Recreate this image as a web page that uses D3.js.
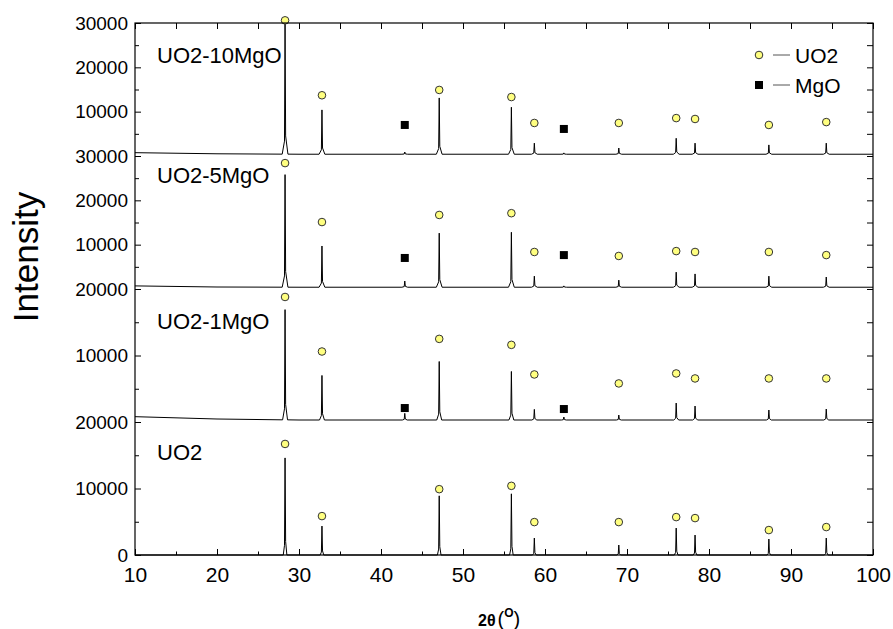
<!DOCTYPE html>
<html>
<head>
<meta charset="utf-8">
<script src="https://cdn.jsdelivr.net/npm/d3@7"></script>
<style>
  body { margin: 0; background: #fff; }
  svg text { font-family: "Liberation Sans", Arial, sans-serif; fill: #000; }
</style>
</head>
<body>
<div class="vis"></div>
<script>
// samples, top to bottom
const samples = ["UO2-10MgO", "UO2-5MgO", "UO2-1MgO", "UO2"];
const panelMax = [30000, 30000, 20000, 20000];

// reflection positions (2theta) and phase
const peakPos = [28.3, 32.8, 42.9, 47.1, 55.9, 58.7, 62.3, 69.0, 76.0, 78.3, 87.3, 94.3];
const peakPhase = ["UO2", "UO2", "MgO", "UO2", "UO2", "UO2", "MgO", "UO2", "UO2", "UO2", "UO2", "UO2"];

// peak top intensities
const peaks10MgO = [29800, 10400, 900, 13100, 11000, 2900, 700, 1800, 4000, 2900, 2500, 2900];
const peaks5MgO = [25800, 9700, 1800, 12600, 12800, 2900, 700, 2000, 3800, 3400, 2900, 2700];
const peaks1MgO = [16900, 7000, 1300, 9100, 7600, 1900, 750, 1050, 2850, 2400, 1800, 1950];
const peaksUO2 = [14600, 4350, 0, 8900, 9200, 2550, 0, 1500, 4050, 3000, 2400, 2550];

// phase marker heights
const marks10MgO = [30600, 13700, 7000, 14900, 13300, 7450, 6100, 7450, 8550, 8350, 7000, 7650];
const marks5MgO = [28400, 15100, 7000, 16700, 17100, 8350, 7650, 7450, 8550, 8350, 8350, 7650];
const marks1MgO = [18800, 10600, 2100, 12500, 11600, 7150, 1950, 5800, 7300, 6550, 6550, 6550];
const marksUO2 = [16700, 5850, null, 9900, 10400, 4950, null, 4950, 5700, 5550, 3750, 4200];

// background [2theta, intensity]
const bg10MgO = [[10, 750], [20, 500], [30, 400], [100, 400]];
const bg5MgO = [[10, 700], [20, 450], [30, 400], [100, 400]];
const bg1MgO = [[10, 800], [20, 450], [30, 300], [100, 300]];
const bgUO2 = [[10, 0], [100, 0]];

const xTicks = [10, 20, 30, 40, 50, 60, 70, 80, 90, 100];
const yTickLabels = [[30000, 20000, 10000], [30000, 20000, 10000], [20000, 10000], [20000, 10000, 0]];

const peakSets = [peaks10MgO, peaks5MgO, peaks1MgO, peaksUO2];
const markSets = [marks10MgO, marks5MgO, marks1MgO, marksUO2];
const bgSets = [bg10MgO, bg5MgO, bg1MgO, bgUO2];

// layout
const W = 893, H = 629;
const margin = { top: 23, right: 20, bottom: 74, left: 135 };
const width = W - margin.left - margin.right;
const height = H - margin.top - margin.bottom;
const panelH = height / samples.length;
const labelBase = [40, 27, 40, 38];
const footW = [0.35, 0.35, 0.3, 0.22];

const svg = d3.select(".vis").append("svg")
  .attr("width", W).attr("height", H)
  .style("background", "#fff");

const g = svg.append("g").attr("transform", `translate(${margin.left},${margin.top})`);

const x = d3.scaleLinear().domain([10, 100]).range([0, width]);

const line = (y) => d3.line().x((d) => x(d[0])).y((d) => y(d[1]));

samples.forEach((name, i) => {
  const y = d3.scaleLinear().domain([0, panelMax[i]]).range([panelH * (i + 1), panelH * i]);
  const bg = bgSets[i];
  const bgAt = d3.scaleLinear().domain(bg.map((d) => d[0])).range(bg.map((d) => d[1]));

  // pattern: background with the read peaks on top
  let pts = bg.slice();
  peakSets[i].forEach((h, k) => {
    if (!h) return;
    const p = peakPos[k], f = bgAt(p), w = footW[i];
    pts.push([p - w, f], [p - 0.07, f + (h - f) * 0.1], [p, h], [p + 0.07, f + (h - f) * 0.14], [p + w, f]);
  });
  pts.sort((a, b) => a[0] - b[0]);

  g.append("path")
    .datum(pts)
    .attr("fill", "none")
    .attr("stroke", "#000")
    .attr("stroke-width", 1)
    .attr("d", line(y));

  // left axis, ticks pointing in
  const yl = g.append("g")
    .call(d3.axisLeft(y)
      .tickValues(d3.range(0, panelMax[i] + 1, 10000))
      .tickSizeInner(-6).tickSizeOuter(0).tickPadding(7)
      .tickFormat((d) => (yTickLabels[i].includes(d) ? d : "")));
  yl.select(".domain").remove();
  yl.selectAll("text").style("font-size", "19px").attr("font-family", null);
  g.append("g")
    .call(d3.axisLeft(y).tickValues(d3.range(5000, panelMax[i], 10000))
      .tickSizeInner(-4).tickSizeOuter(0).tickFormat(""))
    .select(".domain").remove();

  // right axis
  const yr = g.append("g").attr("transform", `translate(${width},0)`)
    .call(d3.axisRight(y).tickValues(d3.range(0, panelMax[i] + 1, 5000))
      .tickSizeInner(-6).tickSizeOuter(0).tickFormat(""));
  yr.select(".domain").remove();

  // phase markers
  const mk = peakPos.map((p, k) => ({ p, v: markSets[i][k], phase: peakPhase[k] }))
    .filter((d) => d.v != null);
  g.append("g").selectAll("circle")
    .data(mk.filter((d) => d.phase === "UO2"))
    .join("circle")
    .attr("cx", (d) => x(d.p))
    .attr("cy", (d) => y(d.v))
    .attr("r", 3.8)
    .attr("fill", "#ffff80")
    .attr("stroke", "#333")
    .attr("stroke-width", 1);
  g.append("g").selectAll("rect")
    .data(mk.filter((d) => d.phase === "MgO"))
    .join("rect")
    .attr("x", (d) => x(d.p) - 4)
    .attr("y", (d) => y(d.v) - 4)
    .attr("width", 8)
    .attr("height", 8)
    .attr("fill", "#000");

  g.append("text")
    .attr("x", 22)
    .attr("y", panelH * i + labelBase[i])
    .style("font-size", "22px")
    .text(name);
});

// x axes
const xb = g.append("g").attr("transform", `translate(0,${height})`)
  .call(d3.axisBottom(x).tickValues(xTicks).tickSizeInner(-6).tickSizeOuter(0).tickPadding(12));
xb.select(".domain").remove();
xb.selectAll("text").style("font-size", "21px").attr("font-family", null);
g.append("g").attr("transform", `translate(0,${height})`)
  .call(d3.axisBottom(x).tickValues(d3.range(15, 100, 10)).tickSizeInner(-3.5).tickSizeOuter(0).tickFormat(""))
  .select(".domain").remove();
g.append("g")
  .call(d3.axisTop(x).tickValues(d3.range(10, 101, 5)).tickSizeInner(-6).tickSizeOuter(0).tickFormat(""))
  .select(".domain").remove();

g.selectAll(".tick line").attr("stroke", "#000");

// frame
g.append("rect")
  .attr("width", width).attr("height", height)
  .attr("fill", "none").attr("stroke", "#000").attr("stroke-width", 1.2);

// legend
const legend = g.append("g").attr("transform", `translate(${759 - margin.left},${55 - margin.top})`);
legend.append("circle").attr("r", 3.8).attr("fill", "#ffff80").attr("stroke", "#333");
legend.append("rect").attr("x", -4).attr("y", 26).attr("width", 8).attr("height", 8).attr("fill", "#000");
[0, 30].forEach((dy, k) => {
  legend.append("line").attr("x1", 14).attr("x2", 31).attr("y1", dy).attr("y2", dy)
    .attr("stroke", "#555").attr("stroke-width", 1);
  legend.append("text").attr("x", 36).attr("y", dy + 8).style("font-size", "21px")
    .text(["UO2", "MgO"][k]);
});

// axis titles
svg.append("text")
  .attr("transform", `translate(38,257) rotate(-90)`)
  .attr("text-anchor", "middle")
  .style("font-size", "35px")
  .text("Intensity");

const xt = svg.append("text").attr("x", 478).attr("y", 626);
xt.append("tspan").style("font-size", "16px").style("font-weight", "bold").text("2θ");
xt.append("tspan").attr("dx", 2).style("font-size", "20px").text("(");
xt.append("tspan").attr("dy", -9).style("font-size", "12px").style("font-weight", "bold").text("O");
xt.append("tspan").attr("dy", 9).style("font-size", "20px").text(")");
</script>
</body>
</html>
